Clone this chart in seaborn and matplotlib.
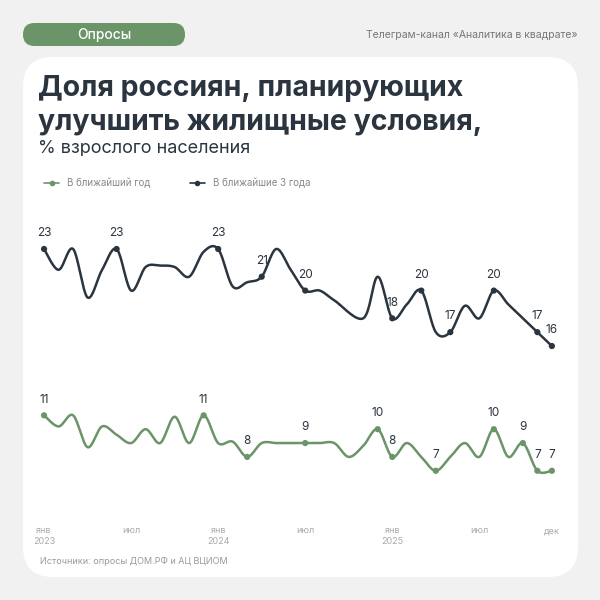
import numpy as np
import pandas as pd
import matplotlib
matplotlib.use("Agg")
import matplotlib.pyplot as plt
from matplotlib.patches import FancyBboxPatch
from matplotlib.lines import Line2D
import seaborn as sns

sns.set_theme(style="white")
plt.rcParams['font.family'] = ['Inter', 'DejaVu Sans']

# month index (0 = Jan 2023) and values
dark_x = [0, 1, 2, 3, 4, 5, 6, 7, 8, 9, 10, 11, 12, 13, 14, 15, 16, 17, 18, 19, 20, 22, 23, 24, 25, 26, 27, 28, 29, 30, 31, 32, 33, 34, 35]
dark_y = [23, 21.5, 23, 19.5, 21.5, 23, 20, 21.7, 21.8, 21.7, 21, 22.8, 23, 20.3, 20.6, 21, 23, 21.5, 20, 20, 19.3, 18, 21, 18, 19, 20, 17, 17, 18.9, 18, 20, 19, 18, 17, 16]
dark_lbl = [0, 5, 12, 15, 18, 24, 26, 28, 31, 34, 35]
dark_txt = ["23", "23", "23", "21", "20", "18", "20", "17", "20", "17", "16"]

green_x = [0, 1, 2, 3, 4, 5, 6, 7, 8, 9, 10, 11, 12, 13, 14, 15, 16, 17, 18, 19, 20, 21, 22, 23, 24, 25, 26, 27, 28, 29, 30, 31, 32, 33, 34, 35]
green_y = [11, 10.2, 11, 8.7, 10.2, 9.6, 9.0, 10.0, 9.0, 10.9, 9.0, 11, 9.0, 9.1, 8, 9.0, 9.0, 9.0, 9, 9.0, 9.0, 8, 8.8, 10, 8, 9.0, 8, 7, 8, 9.0, 8.0, 10, 8.0, 9, 7, 7]
green_lbl = [0, 11, 14, 18, 23, 24, 27, 31, 33, 34, 35]
green_txt = ["11", "11", "8", "9", "10", "8", "7", "10", "9", "7", "7"]

tick_pos = [0, 6, 12, 18, 24, 30, 35]
tick_lab = ["янв\n2023", "июл", "янв\n2024", "июл", "янв\n2025", "июл", "дек"]

GREEN = "#6b9468"
DARK = "#2b3540"
BG = "#f1f1f1"


def smooth(x, y, n=20):
    x = np.asarray(x, float); y = np.asarray(y, float)
    P = np.column_stack([x, y])
    P = np.vstack([P[0], P, P[-1]])
    out = []
    t = np.linspace(0, 1, n, endpoint=False)
    for i in range(1, len(P) - 2):
        p0, p1, p2, p3 = P[i - 1], P[i], P[i + 1], P[i + 2]
        tt = t[:, None]
        c = 0.5 * ((2 * p1) + (-p0 + p2) * tt + (2 * p0 - 5 * p1 + 4 * p2 - p3) * tt ** 2
                   + (-p0 + 3 * p1 - 3 * p2 + p3) * tt ** 3)
        out.append(c)
    out.append(P[-2][None, :])
    out = np.vstack(out)
    return out[:, 0], out[:, 1]


fig = plt.figure(figsize=(6, 6), dpi=100)
fig.patch.set_facecolor(BG)

def fy(y):
    return 1 - y / 600

card = FancyBboxPatch((23 / 600, fy(577)), 555 / 600, 520 / 600,
                      boxstyle="round,pad=0,rounding_size=0.05", transform=fig.transFigure,
                      facecolor="white", edgecolor="none", zorder=-2)
fig.patches.append(card)
pill = FancyBboxPatch((23 / 600, fy(46)), 162 / 600, 23 / 600,
                      boxstyle="round,pad=0,rounding_size=0.019", transform=fig.transFigure,
                      facecolor=GREEN, edgecolor="none", zorder=-1)
fig.patches.append(pill)
fig.text(104 / 600, fy(35), "Опросы", color="white", fontsize=10, ha="center", va="center", fontweight="medium")
fig.text(578 / 600, fy(35), "Телеграм-канал «Аналитика в квадрате»", color="#777777", fontsize=7.5, ha="right", va="center")
fig.text(38 / 600, fy(88), "Доля россиян, планирующих", color=DARK, fontsize=20.5, fontweight="bold", va="center")
fig.text(38 / 600, fy(123), "улучшить жилищные условия,", color=DARK, fontsize=20.5, fontweight="bold", va="center")
fig.text(38 / 600, fy(148), "% взрослого населения", color=DARK, fontsize=13, va="center")
fig.text(40 / 600, fy(561), "Источники: опросы ДОМ.РФ и АЦ ВЦИОМ", color="#999999", fontsize=6.5, va="center")

ax = fig.add_axes([40 / 600, fy(515), 520 / 600, 285 / 600])
ax.set_facecolor("none")

gx, gy = smooth(green_x, green_y)
dx, dy = smooth(dark_x, dark_y)
sns.lineplot(x=gx, y=gy, ax=ax, color=GREEN, lw=1.8, sort=False)
sns.lineplot(x=dx, y=dy, ax=ax, color=DARK, lw=1.8, sort=False)

gxs = [green_x[green_x.index(i)] for i in green_lbl]
gys = [green_y[green_x.index(i)] for i in green_lbl]
dxs = [dark_x[dark_x.index(i)] for i in dark_lbl]
dys = [dark_y[dark_x.index(i)] for i in dark_lbl]
sns.scatterplot(x=gxs, y=gys, ax=ax, color=GREEN, s=20, edgecolor="none", zorder=3)
sns.scatterplot(x=dxs, y=dys, ax=ax, color=DARK, s=20, edgecolor="none", zorder=3)
for x, y, t in zip(gxs, gys, green_txt):
    ax.annotate(t, (x, y), xytext=(0, 7), textcoords="offset points", ha="center", va="bottom", fontsize=8.5, color=DARK)
for x, y, t in zip(dxs, dys, dark_txt):
    ax.annotate(t, (x, y), xytext=(0, 7), textcoords="offset points", ha="center", va="bottom", fontsize=8.5, color=DARK)

ax.set_xlim(-0.28, 35.56)
ax.set_ylim(3.81, 24.37)
ax.set_yticks([])
ax.set_xticks(tick_pos)
ax.set_xticklabels(tick_lab, fontsize=6.5, color="#aaaaaa")
ax.tick_params(axis="x", length=0, pad=8)
for s in ax.spines.values():
    s.set_visible(False)

h = [Line2D([], [], color=GREEN, lw=1.2, marker="o", markersize=3),
     Line2D([], [], color=DARK, lw=1.2, marker="o", markersize=3)]
l = ["В ближайший год", "В ближайшие 3 года"]
ax.legend(h, l, loc="upper left", bbox_to_anchor=(0, 1 + 56 / 285), ncol=2, frameon=False,
          fontsize=7, labelcolor="#888888", handlelength=1.6, columnspacing=4, borderaxespad=0)

fig.savefig("out.png", dpi=100, facecolor=BG)
